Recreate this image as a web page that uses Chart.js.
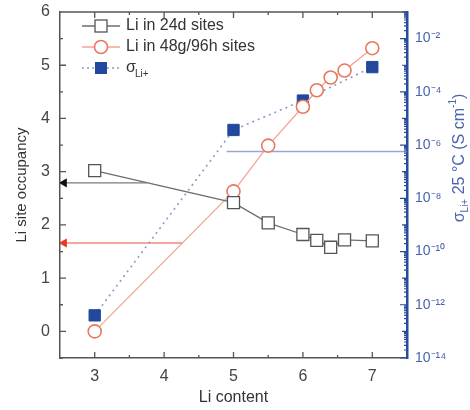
<!DOCTYPE html>
<html>
<head>
<meta charset="utf-8">
<script src="https://cdn.jsdelivr.net/npm/chart.js@4.4.1/dist/chart.umd.min.js"></script>
<style>
	body { margin: 0; background: #fff; }
	canvas { display: block; }
</style>
</head>
<body>
<canvas id="chart" width="470" height="410"></canvas>
<script>
	// Li content for each measured sample
	const liContent = [3, 5, 5.5, 6, 6.2, 6.4, 6.6, 7];
	const occ24d = [3.02, 2.42, 2.04, 1.82, 1.71, 1.58, 1.72, 1.70];
	const occ48g = [0, 2.63, 3.49, 4.22, 4.53, 4.77, 4.90, 5.32];

	// conductivity (S cm-1), right log axis
	const sigmaContent = [3, 5, 6, 7];
	const sigmaVals = [4.0e-13, 3.7e-6, 4.7e-5, 8.5e-4];

	// guide arrows pointing to the axes
	const arrow24 = { y: 2.79, from: 3.75, to: 2.56 };
	const arrow48 = { y: 1.66, from: 4.27, to: 2.56 };
	const sigmaGuide = { y: 5.7e-7, from: 4.9, to: 7.5 };

	const xTicks = [3, 4, 5, 6, 7];
	const yTicks = [0, 1, 2, 3, 4, 5, 6];
	const logTicks = [-14, -12, -10, -8, -6, -4, -2];

	const FONT = '"Liberation Sans", Arial, sans-serif';
	const BLUE = '#2a4b9c';
	const sup = { '-': '⁻', '0': '⁰', '1': '¹', '2': '²', '4': '⁴', '6': '⁶', '8': '⁸' };

	function toXY(xs, ys) {
		return xs.map((x, i) => ({ x: x, y: ys[i] }));
	}

	// inward ticks, top frame line, legend and right axis title
	const decor = {
		afterDraw: (chart) => {
			const ctx = chart.ctx;
			const a = chart.chartArea;
			const sx = chart.scales.x, sy = chart.scales.y, sr = chart.scales.y2;
			ctx.save();
			ctx.strokeStyle = '#555';
			ctx.lineWidth = 1.3;
			ctx.beginPath();
			ctx.moveTo(a.left, a.top); ctx.lineTo(a.right, a.top);
			for (let v = 3; v <= 7; v += 0.5) {
				const len = (v % 1 === 0) ? 6 : 3;
				const px = sx.getPixelForValue(v);
				ctx.moveTo(px, a.bottom); ctx.lineTo(px, a.bottom - len);
				ctx.moveTo(px, a.top); ctx.lineTo(px, a.top + len);
			}
			for (let v = -0.5; v <= 6; v += 0.5) {
				const len = (v % 1 === 0) ? 6 : 3;
				const py = sy.getPixelForValue(v);
				ctx.moveTo(a.left, py); ctx.lineTo(a.left + len, py);
			}
			ctx.stroke();

			ctx.strokeStyle = BLUE;
			ctx.lineWidth = 1.2;
			ctx.beginPath();
			for (let e = -14; e <= -1; e++) {
				for (let m = 1; m <= 9; m++) {
					const v = m * Math.pow(10, e);
					if (v > 0.1 * 1.0001) break;
					const len = m === 1 ? (e % 2 === 0 ? 7 : 5) : 3;
					const py = sr.getPixelForValue(v);
					ctx.moveTo(a.right, py); ctx.lineTo(a.right - len, py);
				}
			}
			ctx.stroke();

			// legend
			const rows = [
				{ y: 26, line: '#6d6d6d', dash: [], shape: 'sq', text: 'Li in 24d sites' },
				{ y: 47, line: '#f3a394', dash: [], shape: 'circ', text: 'Li in 48g/96h sites' },
				{ y: 68, line: '#8b9bc9', dash: [2, 3], shape: 'fill', text: 'σ' }
			];
			rows.forEach((r) => {
				ctx.strokeStyle = r.line;
				ctx.lineWidth = 1.4;
				ctx.setLineDash(r.dash);
				ctx.beginPath();
				ctx.moveTo(82, r.y); ctx.lineTo(120, r.y);
				ctx.stroke();
				ctx.setLineDash([]);
				if (r.shape === 'sq') {
					ctx.fillStyle = '#fff'; ctx.strokeStyle = '#555'; ctx.lineWidth = 1.3;
					ctx.fillRect(95, r.y - 6, 12, 12); ctx.strokeRect(95, r.y - 6, 12, 12);
				} else if (r.shape === 'circ') {
					ctx.fillStyle = '#fff'; ctx.strokeStyle = '#e8785f'; ctx.lineWidth = 1.6;
					ctx.beginPath(); ctx.arc(101, r.y, 6.5, 0, Math.PI * 2); ctx.fill(); ctx.stroke();
				} else {
					ctx.fillStyle = '#21489c';
					ctx.fillRect(95, r.y - 6, 12, 12);
				}
				ctx.fillStyle = '#333';
				ctx.font = '16px ' + FONT;
				ctx.textBaseline = 'middle';
				ctx.textAlign = 'left';
				ctx.fillText(r.text, 126, r.y);
				if (r.shape === 'fill') {
					ctx.font = '10px ' + FONT;
					ctx.fillText('Li+', 126 + 9, r.y + 6);
				}
			});

			// right axis title with subscript
			ctx.translate(459, 158);
			ctx.rotate(-Math.PI / 2);
			ctx.fillStyle = '#4a63ad';
			ctx.textBaseline = 'alphabetic';
			const main = ' 25 °C (S cm';
			ctx.font = '16px ' + FONT;
			const wS = ctx.measureText('σ').width;
			ctx.font = '10px ' + FONT;
			const wSub = ctx.measureText('Li+').width;
			const wSup = ctx.measureText('-1').width;
			ctx.font = '16px ' + FONT;
			const wMain = ctx.measureText(main).width;
			const wEnd = ctx.measureText(')').width;
			let x = -(wS + wSub + wMain + wSup + wEnd) / 2;
			ctx.fillText('σ', x, 5); x += wS;
			ctx.font = '10px ' + FONT;
			ctx.fillText('Li+', x, 9); x += wSub;
			ctx.font = '16px ' + FONT;
			ctx.fillText(main, x, 5); x += wMain;
			ctx.font = '10px ' + FONT;
			ctx.fillText('-1', x, -3); x += wSup;
			ctx.font = '16px ' + FONT;
			ctx.fillText(')', x, 5);
			ctx.restore();
		}
	};

	// fixed scale boxes so the plot area matches the figure
	function fixBox(w, h) {
		return (s) => {
			if (w) s.width = w;
			if (h) s.height = h;
			s.paddingTop = 0; s.paddingBottom = 0;
			s.paddingLeft = 0; s.paddingRight = 0;
		};
	}

	const ctx = document.getElementById('chart').getContext('2d');
	const chart = new Chart(ctx, {
		type: 'line',
		data: {
			datasets: [{
				label: 'Li in 24d sites',
				data: toXY(liContent, occ24d),
				yAxisID: 'y',
				borderColor: '#6d6d6d',
				borderWidth: 1.3,
				pointStyle: 'rect',
				pointRadius: 8.5,
				pointBorderColor: '#555',
				pointBackgroundColor: '#fff',
				pointBorderWidth: 1.3
			}, {
				label: 'Li in 48g/96h sites',
				data: toXY(liContent, occ48g),
				yAxisID: 'y',
				borderColor: '#f3a394',
				borderWidth: 1.3,
				pointStyle: 'circle',
				pointRadius: 6.5,
				pointBorderColor: '#e8785f',
				pointBackgroundColor: '#fff',
				pointBorderWidth: 1.6
			}, {
				label: 'sigma',
				data: toXY(sigmaContent, sigmaVals),
				yAxisID: 'y2',
				borderColor: '#8b9bc9',
				borderWidth: 1.6,
				borderDash: [2, 4],
				pointStyle: 'rect',
				pointRadius: 8,
				pointBorderColor: '#21489c',
				pointBackgroundColor: '#21489c',
				pointBorderWidth: 1
			}, {
				label: 'arrow 24d',
				data: [{ x: arrow24.to, y: arrow24.y }, { x: arrow24.from, y: arrow24.y }],
				yAxisID: 'y',
				borderColor: '#7a7a7a',
				borderWidth: 1.3,
				pointStyle: 'triangle',
				rotation: -90,
				pointRadius: [4, 0],
				pointBackgroundColor: '#111',
				pointBorderColor: '#111'
			}, {
				label: 'arrow 48g',
				data: [{ x: arrow48.to, y: arrow48.y }, { x: arrow48.from, y: arrow48.y }],
				yAxisID: 'y',
				borderColor: '#f08a7a',
				borderWidth: 1.3,
				pointStyle: 'triangle',
				rotation: -90,
				pointRadius: [4, 0],
				pointBackgroundColor: '#e53920',
				pointBorderColor: '#e53920'
			}, {
				label: 'sigma guide',
				data: [{ x: sigmaGuide.from, y: sigmaGuide.y }, { x: sigmaGuide.to, y: sigmaGuide.y }],
				yAxisID: 'y2',
				borderColor: '#9aa5d0',
				borderWidth: 1.4,
				pointRadius: 0
			}]
		},
		options: {
			responsive: false,
			animation: false,
			layout: { padding: { top: 12, left: 0, right: 0, bottom: 0 } },
			plugins: {
				legend: { display: false },
				tooltip: { enabled: false }
			},
			scales: {
				x: {
					type: 'linear',
					min: 2.5,
					max: 7.5,
					afterBuildTicks: (s) => { s.ticks = xTicks.map(v => ({ value: v })); },
					afterFit: fixBox(0, 52),
					grid: { display: false, drawTicks: false },
					border: { color: '#555', width: 1.5 },
					ticks: { color: '#444', padding: 9, font: { family: FONT, size: 16 } },
					title: { display: true, text: 'Li content', color: '#333', padding: { top: 0, bottom: 3 }, font: { family: FONT, size: 16 } }
				},
				y: {
					type: 'linear',
					position: 'left',
					min: -0.5,
					max: 6,
					afterBuildTicks: (s) => { s.ticks = yTicks.map(v => ({ value: v })); },
					afterFit: fixBox(60, 0),
					grid: { display: false, drawTicks: false },
					border: { color: '#555', width: 1.5 },
					ticks: { color: '#444', padding: 10, font: { family: FONT, size: 16 } },
					title: { display: true, text: 'Li site occupancy', color: '#333', padding: { top: 13, bottom: 0 }, font: { family: FONT, size: 15 } }
				},
				y2: {
					type: 'logarithmic',
					position: 'right',
					min: 1e-14,
					max: 1e-1,
					afterBuildTicks: (s) => { s.ticks = logTicks.map(e => ({ value: Math.pow(10, e) })); },
					afterFit: fixBox(63, 0),
					grid: { display: false, drawTicks: false },
					border: { color: BLUE, width: 2.5 },
					ticks: {
						color: '#4a63ad',
						padding: 8,
						font: { family: FONT, size: 14 },
						callback: (v) => '10' + String(Math.round(Math.log10(v))).split('').map(c => sup[c]).join('')
					}
				}
			}
		},
		plugins: [decor]
	});
</script>
</body>
</html>
